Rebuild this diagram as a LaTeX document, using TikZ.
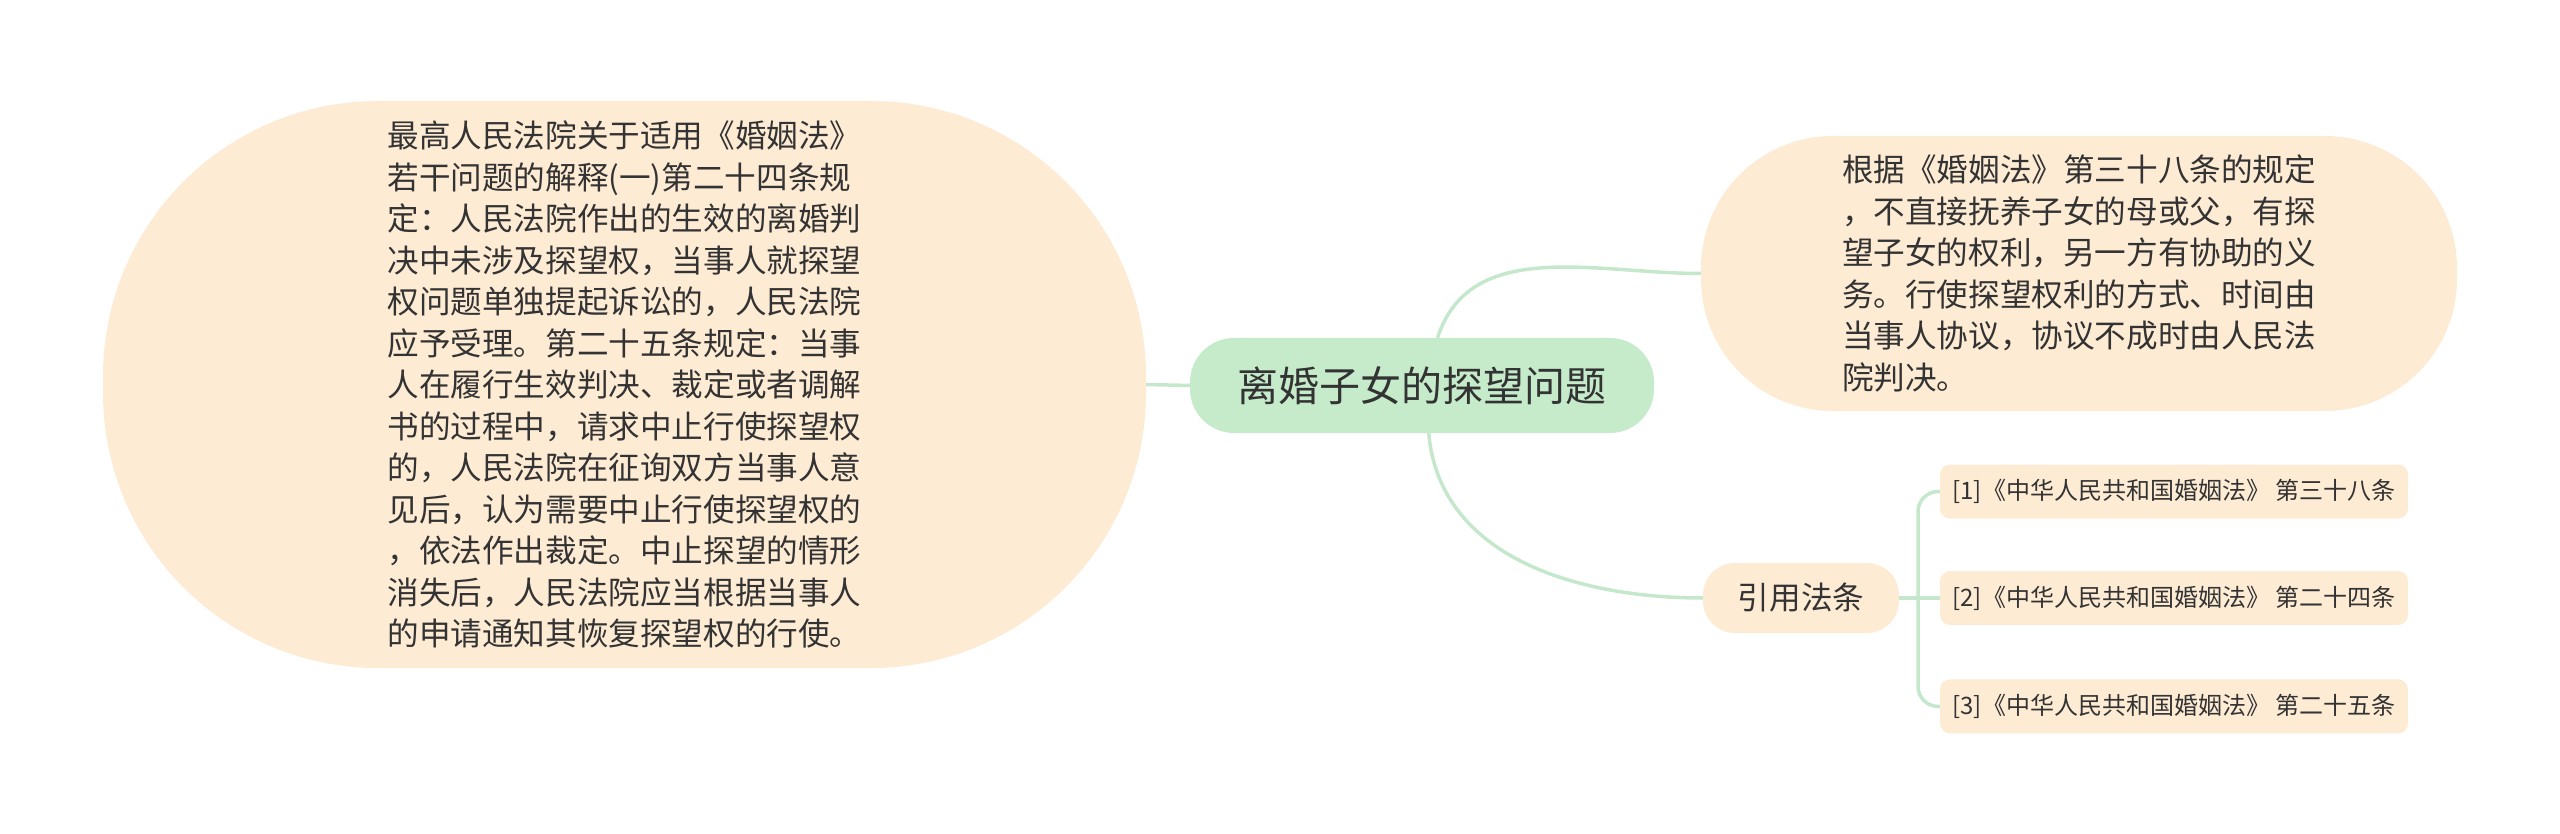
\documentclass[tikz,border=0pt]{standalone}
\usepackage{fontspec}
\setmainfont{Noto Sans CJK SC}
\usetikzlibrary{positioning}

\definecolor{peach}{HTML}{FDEBD4}
\definecolor{mint}{HTML}{C5EBCB}
\definecolor{twig}{HTML}{C5E8CC}
\definecolor{ink}{HTML}{333333}

\tikzset{
	box/.style={fill=peach,text=ink,inner sep=0pt,align=left},
	bigtext/.style={font=\fontsize{31.6}{41.5}\selectfont},
	cite/.style={box,font=\fontsize{24}{28}\selectfont,minimum width=468,minimum height=54,rounded corners=10},
	branch/.style={draw=twig,line width=3.5pt}
}

\begin{document}
\begin{tikzpicture}[x=1pt,y=-1pt]
		\useasboundingbox (0,0) rectangle (2560,834);
		% topic and subtopics
		\node[box,fill=mint,minimum width=464,minimum height=95,rounded corners=44,
			font=\fontsize{41}{48}\selectfont](R) at (1422,385.5) {离婚子女的探望问题};
		\node[box,bigtext,minimum width=1043,minimum height=567,rounded corners=275](L) at (624.5,384.5)
			{最高人民法院关于适用《婚姻法》\\若干问题的解释(一)第二十四条规\\定：人民法院作出的生效的离婚判\\决中未涉及探望权，当事人就探望\\权问题单独提起诉讼的，人民法院\\应予受理。第二十五条规定：当事\\人在履行生效判决、裁定或者调解\\书的过程中，请求中止行使探望权\\的，人民法院在征询双方当事人意\\见后，认为需要中止行使探望权的\\，依法作出裁定。中止探望的情形\\消失后，人民法院应当根据当事人\\的申请通知其恢复探望权的行使。};
		\node[box,bigtext,minimum width=756,minimum height=275,rounded corners=132](RT) at (2079,273.5)
			{根据《婚姻法》第三十八条的规定\\，不直接抚养子女的母或父，有探\\望子女的权利，另一方有协助的义\\务。行使探望权利的方式、时间由\\当事人协议，协议不成时由人民法\\院判决。};
		\node[box,bigtext,minimum width=196,minimum height=70,rounded corners=32](yy) at (1801,598) {引用法条};
		% cited articles
		\node[cite](ref2) at (2174,598) {[2]《中华人民共和国婚姻法》 第二十四条};
		\node[cite,above=52pt of ref2](ref1) {[1]《中华人民共和国婚姻法》 第三十八条};
		\node[cite,below=54pt of ref2](ref3) {[3]《中华人民共和国婚姻法》 第二十五条};
		\coordinate (fork) at (1918,598);
		% connectors
		\draw[branch] (R.west) -- (L.east);
		\draw[branch] (R.72) to[out=72,in=180] (RT.west);
		\draw[branch] (R.-82) to[out=-85,in=180] (yy.west);
		\draw[branch] (yy.east) -- (ref2.west);
		\draw[branch,rounded corners=20] (ref1.west) -| (fork) |- (ref3.west);
	\end{tikzpicture}
\end{document}
